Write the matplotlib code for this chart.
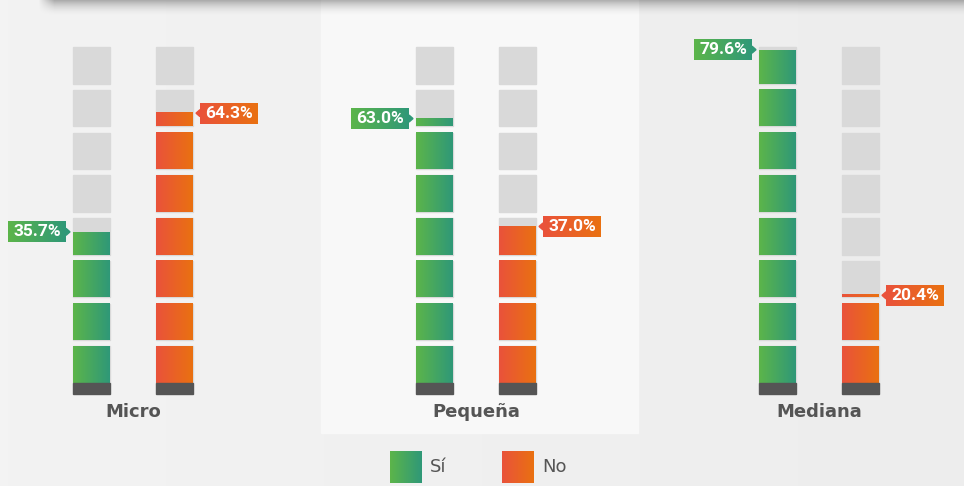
import matplotlib.pyplot as plt
import numpy as np
from matplotlib.colors import LinearSegmentedColormap
from matplotlib.patches import Rectangle, Polygon

categories = ['Micro', 'Pequeña', 'Mediana']
si = [35.7, 63.0, 79.6]
no = [64.3, 37.0, 20.4]
legend_labels = ['Sí', 'No']

green = LinearSegmentedColormap.from_list('g', ['#5cb54a', '#2f9878'])
orange = LinearSegmentedColormap.from_list('o', ['#ea523b', '#e97111'])
grad = np.linspace(0, 1, 128).reshape(1, -1)

W, H = 964, 486
fig = plt.figure(figsize=(W / 100, H / 100), dpi=100)

# background layer, pixel coordinates
bg = fig.add_axes([0, 0, 1, 1], zorder=0)
bg.imshow(grad, cmap=LinearSegmentedColormap.from_list('bg', ['#f3f3f3', '#ededed']),
          extent=[0, W, H, 0], aspect='auto', zorder=0)
bg.add_patch(Rectangle((321, 0), 317, 433, color='#f8f8f8', zorder=1))

# shadow of the card above
sh = np.zeros((40, W, 4))
yy = np.linspace(0, 1, 40)[:, None]
xx = np.arange(W)[None, :]
sh[..., 3] = 0.3 * (1 - yy) ** 2 * np.clip((xx - 38) / 16, 0, 1)
bg.imshow(sh, extent=[0, W, 17, 0], aspect='auto', zorder=2, interpolation='bilinear')

# legend
for k, (lab, cm) in enumerate(zip(legend_labels, [green, orange])):
    lx = 390 + k * 112
    bg.imshow(grad, cmap=cm, extent=[lx, lx + 32, 483, 451], aspect='auto', zorder=3)
    bg.text(lx + 40, 467, lab, fontsize=13, color='#555555', ha='left', va='center')
bg.set_xlim(0, W)
bg.set_ylim(H, 0)
bg.axis('off')

# chart layer
ax = fig.add_axes([0, 0, 1, 1], zorder=2)
ax.patch.set_visible(False)
ppu = 4.15                   # pixels per percent
zero_px = 380                # pixel row of 0 %
seg0 = -3 / ppu              # segments start a little under 0
col_h = 336 / ppu
n_seg = 8
gap = 6.2 / ppu
seg_h = (col_h - (n_seg - 1) * gap) / n_seg
bw = 37
centers = [133 + 343 * i for i in range(len(categories))]

for i, cat in enumerate(categories):
    for j, (vals, cm) in enumerate([(si, green), (no, orange)]):
        xc = centers[i] + (j - 0.5) * 83
        x0, x1 = xc - bw / 2, xc + bw / 2
        v = vals[i]
        for k in range(n_seg):
            b = seg0 + k * (seg_h + gap)
            t = b + seg_h
            ax.add_patch(Rectangle((x0, b), bw, seg_h, color='#d9d9d9', zorder=2))
            if v > b:
                ax.imshow(grad, cmap=cm, extent=[x0, x1, b, min(t, v)],
                          aspect='auto', interpolation='bilinear', zorder=3)
        ax.add_patch(Rectangle((x0, seg0 - 11 / ppu), bw, 11 / ppu, color='#555555', zorder=3))

        # value tag
        if j == 0:
            bx1 = x0 - 7
            bx0 = bx1 - 58
            tri = [(bx1, v + 3.5 / ppu), (bx1 + 4, v), (bx1, v - 3.5 / ppu)]
            tc = cm(1.0)
        else:
            bx0 = x1 + 7
            bx1 = bx0 + 58
            tri = [(bx0, v + 3.5 / ppu), (bx0 - 4, v), (bx0, v - 3.5 / ppu)]
            tc = cm(0.0)
        ax.imshow(grad, cmap=cm, extent=[bx0, bx1, v - 10.5 / ppu, v + 10.5 / ppu],
                  aspect='auto', interpolation='bilinear', zorder=5)
        ax.add_patch(Polygon(tri, closed=True, color=tc, zorder=5))
        ax.text((bx0 + bx1) / 2, v, f'{v:.1f}%', color='white', fontsize=12.5,
                fontweight='bold', family='Roboto', ha='center', va='center', zorder=6)

    ax.text(centers[i], seg0 - 29 / ppu, cat, ha='center', va='center', fontsize=13,
            fontweight='bold', color='#555555')

ax.set_xlim(0, W)
ax.set_ylim(-(H - zero_px) / ppu, zero_px / ppu)
ax.axis('off')

fig.savefig('out.png', dpi=100)
